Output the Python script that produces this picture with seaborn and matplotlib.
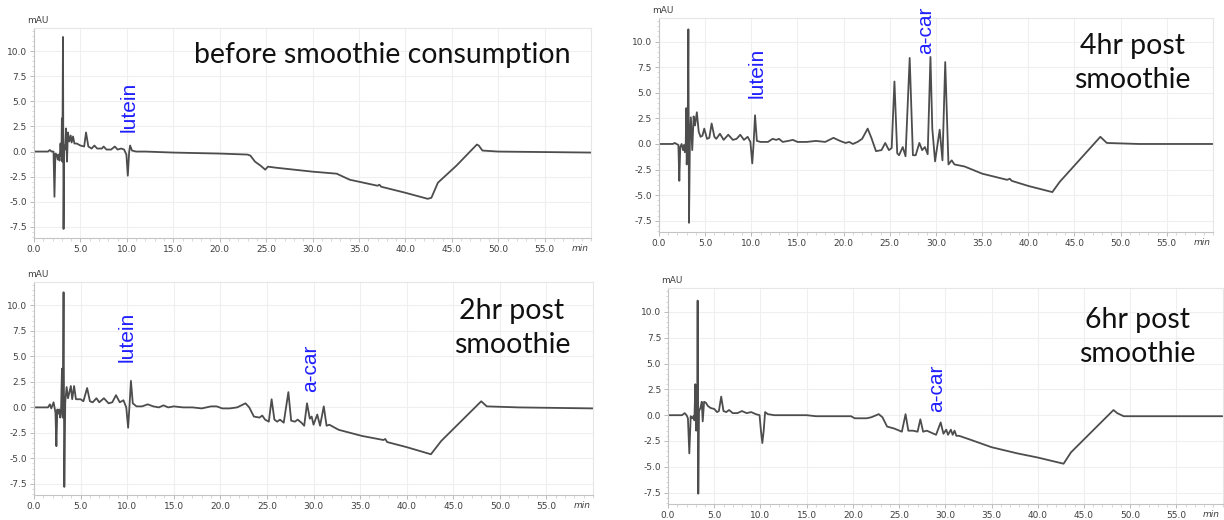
import numpy as np
import pandas as pd
import matplotlib
matplotlib.use('Agg')
import matplotlib.pyplot as plt
from matplotlib.ticker import MultipleLocator
import seaborn as sns

# --- chromatogram traces (time in min, signal in mAU) ---

t_before = [0.0, 1.5, 1.7, 1.9, 2.1, 2.2, 2.3, 2.45, 2.55, 2.65, 2.75, 2.85, 2.95, 3.0, 3.05,
            3.12, 3.18, 3.25, 3.35, 3.45, 3.55, 3.65, 3.8, 3.95, 4.05, 4.2, 4.35, 4.6, 5.0,
            5.4, 5.6, 5.85, 6.2, 6.5, 6.8, 7.3, 7.5, 7.8, 8.3, 8.7, 9.0, 9.4, 9.7, 9.95,
            10.1, 10.25, 10.35, 10.55, 11.0, 12.0, 15.0, 20.0, 23.0, 23.3, 23.8, 24.4, 24.9,
            25.2, 26.0, 27.0, 28.0, 30.0, 32.6, 34.0, 37.0, 37.2, 37.4, 40.0, 42.4, 42.8,
            43.5, 45.5, 47.7, 47.9, 48.3, 50.0, 55.0, 60.0]
mau_before = [0.0, 0.0, 0.15, 0.0, 0.0, -4.5, -0.2, -0.3, -0.8, -0.3, -0.9, 0.8, -0.5, 3.3, -1.0,
              11.4, -7.7, 0.6, 0.2, 2.3, -1.0, 1.9, 1.0, 1.6, 0.9, 1.5, 0.8, 0.8, 0.6,
              0.5, 1.9, 0.5, 0.3, 0.6, 0.3, 0.3, 0.5, 0.2, 0.2, 0.5, 0.2, 0.3, 0.2, -0.3,
              -2.4, 0.0, 0.6, 0.1, 0.0, 0.0, -0.1, -0.2, -0.3, -0.4, -1.0, -1.4, -1.8,
              -1.5, -1.6, -1.7, -1.8, -2.0, -2.2, -2.8, -3.4, -3.3, -3.5, -4.1, -4.7, -4.6,
              -3.1, -1.4, 0.7, 0.6, 0.1, 0.0, -0.05, -0.1]

t_4hr = [0.0, 1.5, 1.7, 1.9, 2.1, 2.2, 2.3, 2.45, 2.6, 2.7, 2.8, 2.9, 2.95, 3.0, 3.1,
         3.18, 3.25, 3.35, 3.45, 3.6, 3.75, 3.9, 4.1, 4.3, 4.5, 4.7, 4.9, 5.2, 5.45,
         5.7, 6.0, 6.2, 6.6, 7.0, 7.5, 8.0, 8.4, 8.8, 9.2, 9.6, 9.9, 10.1, 10.25, 10.4,
         10.6, 11.0, 11.8, 12.3, 12.7, 13.0, 13.4, 14.0, 14.5, 15.0, 16.0, 17.0, 18.0,
         18.9, 19.6, 20.2, 20.6, 21.0, 21.5, 22.0, 22.6, 23.0, 23.5, 24.1, 24.5, 24.9,
         25.2, 25.5, 25.8, 26.0, 26.4, 26.7, 27.15, 27.5, 27.8, 28.2, 28.5, 28.8, 29.1,
         29.4, 29.6, 29.9, 30.4, 30.7, 31.0, 31.35, 31.7, 32.0, 33.1, 35.0, 37.7, 38.0,
         38.2, 40.0, 42.6, 43.4, 47.8, 48.5, 52.0, 60.0]
mau_4hr = [0.0, 0.0, 0.1, 0.0, -0.1, -3.6, -0.3, 0.0, -0.6, -0.1, -0.8, 0.2, 3.5, -2.0, 0.5,
           11.2, -7.7, 0.5, 2.6, -0.6, 2.7, 1.8, 3.1, 1.2, 0.7, 0.8, 1.5, 0.5, 0.6,
           2.0, 0.7, 0.5, 1.0, 0.4, 0.9, 0.4, 0.5, 0.9, 0.4, 0.7, 0.2, -1.9, 0.1, 2.8,
           0.3, 0.2, 0.2, 0.5, 0.4, 0.5, 0.2, 0.3, 0.4, 0.2, 0.2, 0.3, 0.2,
           0.6, 0.3, 0.1, 0.2, 0.0, 0.2, 0.5, 1.5, 0.6, -0.7, -0.6, 0.1, -0.6,
           -0.4, 6.1, -0.9, -1.1, -0.3, -1.2, 8.4, -1.1, -1.1, 0.1, -0.6, -0.3, -1.0,
           8.5, 1.5, -1.7, 1.4, -1.6, 8.0, -2.0, -1.6, -2.0, -2.2, -2.9, -3.5, -3.4,
           -3.6, -4.1, -4.7, -3.7, 0.7, 0.1, 0.0, 0.0]

t_2hr = [0.0, 1.5, 1.7, 1.85, 2.1, 2.3, 2.4, 2.5, 2.6, 2.7, 2.8, 2.9, 3.0, 3.08,
         3.17, 3.25, 3.35, 3.5, 3.65, 3.8, 3.95, 4.1, 4.3, 4.5, 5.0, 5.3, 5.7, 6.0,
         6.3, 6.7, 7.0, 7.5, 8.0, 8.4, 8.8, 9.2, 9.6, 9.9, 10.1, 10.25, 10.4, 10.6,
         11.0, 11.6, 12.2, 12.8, 13.4, 13.9, 14.4, 15.0, 16.0, 17.0, 18.0, 19.0, 19.6,
         20.2, 21.0, 21.8, 22.7, 23.1, 23.6, 24.2, 24.5, 24.8, 25.2, 25.5, 25.8, 26.1,
         26.4, 26.8, 27.3, 27.6, 28.0, 28.3, 28.7, 29.0, 29.3, 29.6, 29.8, 30.0, 30.4,
         30.7, 31.1, 31.4, 31.7, 32.7, 35.2, 37.5, 37.7, 37.9, 40.0, 42.6, 43.7, 48.0,
         48.6, 52.0, 60.0]
mau_2hr = [0.0, 0.0, 0.3, -0.1, 0.5, -0.5, -3.8, -0.2, -0.6, -0.2, -1.0, -0.3, 3.8, -1.0,
           11.3, -7.8, 0.5, 2.0, 0.9, 1.5, 2.1, 0.8, 2.1, 0.8, 0.8, 0.6, 1.9, 0.6,
           0.5, 0.9, 0.5, 0.9, 0.4, 0.5, 1.2, 0.5, 0.7, 0.0, -2.0, 0.2, 2.6, 0.4,
           0.1, 0.1, 0.3, 0.1, 0.0, 0.2, 0.0, 0.1, 0.0, 0.0, -0.1, 0.1, 0.1,
           -0.1, -0.1, 0.0, 0.4, 0.0, -0.9, -1.0, -0.8, -1.2, -1.4, 0.8, -1.2, -1.4,
           -1.2, -1.5, 1.5, -1.3, -1.4, -1.2, -1.5, -1.8, 0.4, -1.1, -0.9, -1.7, -0.7,
           -1.8, 0.1, -1.8, -1.7, -2.2, -2.8, -3.2, -3.1, -3.4, -3.9, -4.6, -3.3, 0.6,
           0.1, 0.0, -0.1]

t_6hr = [0.0, 1.5, 1.8, 2.0, 2.15, 2.3, 2.45, 2.6, 2.75, 2.85, 2.95, 3.05, 3.15, 3.2,
         3.27, 3.35, 3.5, 3.65, 3.75, 3.9, 4.1, 4.3, 4.6, 5.0, 5.3, 5.5, 5.75, 6.0,
         6.3, 6.6, 7.0, 7.5, 8.0, 8.5, 9.0, 9.5, 9.9, 10.05, 10.2, 10.35, 10.5, 10.8,
         11.5, 15.0, 16.0, 19.0, 19.8, 20.2, 21.5, 22.0, 22.8, 23.2, 23.7, 24.5, 25.3,
         25.7, 26.0, 26.5, 27.0, 27.3, 27.6, 28.0, 28.5, 29.0, 29.5, 29.8, 30.1, 30.3,
         30.6, 30.8, 31.0, 31.2, 31.5, 32.8, 35.0, 37.8, 40.0, 42.8, 43.6, 48.2, 48.6,
         49.3, 60.0]
mau_6hr = [0.0, 0.0, 0.2, 0.0, -0.3, -3.7, -0.1, -0.3, -0.1, -0.5, 3.0, -1.5, 0.3, 11.1,
           -7.6, 0.4, 0.7, 1.3, -0.6, 1.3, 1.2, 0.9, 0.7, 0.6, 0.3, 0.4, 1.8, 0.4,
           0.3, 0.5, 0.2, 0.2, 0.4, 0.2, 0.3, 0.1, 0.0, -1.5, -2.7, -1.5, 0.3, 0.1,
           0.0, 0.0, -0.1, -0.1, -0.1, -0.3, -0.3, -0.2, 0.1, -0.2, -1.1, -1.3, -1.6,
           0.1, -1.5, -1.5, -1.6, -0.4, -1.6, -1.5, -1.7, -1.9, -0.7, -1.8, -1.4, -1.9,
           -1.4, -1.9, -1.5, -2.0, -2.0, -2.4, -3.1, -3.7, -4.1, -4.7, -3.6, 0.5, 0.2,
           -0.1, -0.1]

titles = ['before smoothie consumption', '4hr post\nsmoothie',
          '2hr post\nsmoothie', '6hr post\nsmoothie']

x_ticks = [0, 5, 10, 15, 20, 25, 30, 35, 40, 45, 50, 55]
x_tick_labels = ['0.0', '5.0', '10.0', '15.0', '20.0', '25.0', '30.0', '35.0',
                 '40.0', '45.0', '50.0', '55.0']
y_ticks = [-7.5, -5.0, -2.5, 0.0, 2.5, 5.0, 7.5, 10.0]
y_tick_labels = ['-7.5', '-5.0', '-2.5', '0.0', '2.5', '5.0', '7.5', '10.0']

sns.set_style('white')
plt.rcParams['font.family'] = ['DejaVu Sans']
plt.rcParams['axes.unicode_minus'] = False

fig = plt.figure(figsize=(12.24, 5.2), dpi=100)

panels = [
    # trace, axes rect, title pos, peak labels
    (t_before, mau_before, [0.0278, 0.5423, 0.4551, 0.4040], (0.625, 0.872),
     [('lutein', 10.2, 1.9)]),
    (t_4hr, mau_4hr, [0.5384, 0.5538, 0.4526, 0.4115], (0.854, 0.79),
     [('lutein', 10.6, 4.5), ('a-car', 28.9, 8.8)]),
    (t_2hr, mau_2hr, [0.0278, 0.0480, 0.4567, 0.4096], (0.855, 0.784),
     [('lutein', 10.0, 4.5), ('a-car', 29.7, 1.5)]),
    (t_6hr, mau_6hr, [0.5458, 0.0308, 0.4530, 0.4150], (0.847, 0.773),
     [('a-car', 29.1, 0.3)]),
]

for (t, mau, rect, tpos, peaks), title in zip(panels, titles):
    ax = fig.add_axes(rect)
    df = pd.DataFrame({'time': t, 'mAU': mau})
    sns.lineplot(data=df, x='time', y='mAU', sort=False, estimator=None,
                 color='#4d4d4d', linewidth=1.3, ax=ax)

    ax.set_xlim(0, 60)
    ax.set_ylim(-8.6, 12.3)
    ax.set_xticks(x_ticks)
    ax.set_xticklabels(x_tick_labels)
    ax.set_yticks(y_ticks)
    ax.set_yticklabels(y_tick_labels)
    ax.xaxis.set_minor_locator(MultipleLocator(1))
    ax.yaxis.set_minor_locator(MultipleLocator(0.5))
    ax.set_xlabel('')
    ax.set_ylabel('')

    ax.grid(True, which='major', color='#efefef', linewidth=0.8)
    ax.set_axisbelow(True)
    for side in ['left', 'bottom']:
        ax.spines[side].set_color('#c4c4c4')
        ax.spines[side].set_linewidth(0.8)
    for side in ['top', 'right']:
        ax.spines[side].set_color('#e6e6e6')
        ax.spines[side].set_linewidth(0.8)
    ax.tick_params(which='major', length=3, width=0.6, color='#b0b0b0',
                   labelsize=6.5, labelcolor='#404040', pad=2)
    ax.tick_params(which='minor', length=1.8, width=0.5, color='#c8c8c8')
    ax.tick_params(axis='x', which='both', bottom=True)
    ax.tick_params(axis='y', which='both', left=True)

    ax.annotate('mAU', xy=(0, 1), xycoords='axes fraction', xytext=(-5, 2),
                textcoords='offset points', ha='left', va='bottom',
                fontsize=6.5, color='#404040')
    ax.annotate('min', xy=(1, 0), xycoords='axes fraction', xytext=(-2, -4),
                textcoords='offset points', ha='right', va='top',
                fontsize=6.5, color='#404040', style='italic')

    ax.text(tpos[0], tpos[1], title, transform=ax.transAxes, ha='center',
            va='center', fontsize=20.5, family=['Lato', 'DejaVu Sans'],
            color='#111111', linespacing=1.4)

    for name, px, py in peaks:
        ax.text(px, py, name, rotation=90, ha='center', va='bottom',
                fontsize=15, color='#1f1fff',
                family=['Liberation Sans', 'DejaVu Sans'])

fig.savefig('out.png', dpi=100)
